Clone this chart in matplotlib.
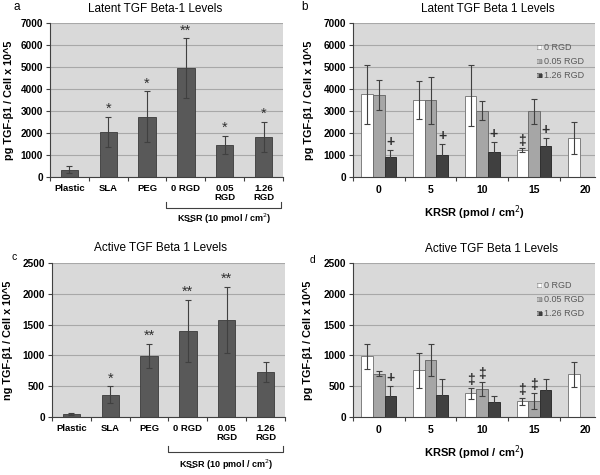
import matplotlib
matplotlib.use("Agg")
import matplotlib.pyplot as plt
import numpy as np

plt.rcParams['font.family'] = ['Liberation Sans', 'DejaVu Sans']

# ---------------- data ----------------
cats_ac = ["Plastic", "SLA", "PEG", "0 RGD", "0.05\nRGD", "1.26\nRGD"]
latent_a = [330, 2050, 2750, 4950, 1450, 1820]
latent_a_err = [150, 700, 1150, 1350, 420, 700]
latent_a_sig = ["", "*", "*", "**", "*", "*"]

active_c = [50, 360, 990, 1400, 1575, 735]
active_c_err = [12, 140, 200, 500, 540, 160]
active_c_sig = ["", "*", "**", "**", "**", ""]

krsr_groups = ["0", "5", "10", "15", "20"]
series_names = ["0 RGD", "0.05 RGD", "1.26 RGD"]

latent_b = {
    "0 RGD":    [3750, 3500, 3700, 1220, 1780],
    "0.05 RGD": [3720, 3480, 3020, 2980, None],
    "1.26 RGD": [900, 1020, 1130, 1400, None],
}
latent_b_err = {
    "0 RGD":    [1350, 850, 1400, 80, 730],
    "0.05 RGD": [680, 1050, 420, 550, None],
    "1.26 RGD": [330, 500, 450, 380, None],
}
latent_b_sig = {
    "0 RGD":    ["", "", "", "‡", ""],
    "0.05 RGD": ["", "", "", "", ""],
    "1.26 RGD": ["+", "+", "+", "+", ""],
}

active_d = {
    "0 RGD":    [985, 755, 385, 255, 690],
    "0.05 RGD": [700, 925, 455, 265, None],
    "1.26 RGD": [335, 350, 245, 440, None],
}
active_d_err = {
    "0 RGD":    [200, 290, 90, 60, 200],
    "0.05 RGD": [40, 260, 110, 130, None],
    "1.26 RGD": [165, 265, 90, 170, None],
}
active_d_sig = {
    "0 RGD":    ["", "", "‡", "‡", ""],
    "0.05 RGD": ["", "", "‡", "‡", ""],
    "1.26 RGD": ["+", "", "", "", ""],
}

# ---------------- style ----------------
BG = "#d9d9d9"
GRID = "#a8a8a8"
DARK = "#595959"
series_face = {"0 RGD": "#ffffff", "0.05 RGD": "#a6a6a6", "1.26 RGD": "#404040"}
series_edge = {"0 RGD": "#7f7f7f", "0.05 RGD": "#6e6e6e", "1.26 RGD": "#303030"}

fig = plt.figure(figsize=(6, 4.75), dpi=100)
W, H = 600, 475

def make_ax(l, t, r, b):
    return fig.add_axes([l / W, 1 - b / H, (r - l) / W, (b - t) / H])

ax_a = make_ax(50, 23, 283, 177)
ax_b = make_ax(353, 23, 595, 177)
ax_c = make_ax(52, 263, 285, 417)
ax_d = make_ax(353, 263, 595, 417)

def style(ax, ymax, step, ylabel, ylab_x):
    ax.set_facecolor(BG)
    ax.set_ylim(0, ymax)
    ax.set_yticks(np.arange(0, ymax + 1, step))
    ax.yaxis.grid(True, color=GRID, lw=0.8)
    ax.set_axisbelow(True)
    for s in ("top", "right"):
        ax.spines[s].set_visible(False)
    for s in ("left", "bottom"):
        ax.spines[s].set_color("#404040")
        ax.spines[s].set_linewidth(0.8)
    ax.tick_params(axis="y", direction="out", length=3, width=0.8, color="#404040",
                   labelsize=7.2, pad=2)
    for lab in ax.get_yticklabels():
        lab.set_fontweight("bold")
    ax.set_ylabel(ylabel, fontsize=7.8, fontweight="bold")
    ax.yaxis.set_label_coords(ylab_x, 0.5)

def single_panel(ax, vals, errs, sigs, ymax, step, ylabel, ylab_x, bracket_y, text_y):
    style(ax, ymax, step, ylabel, ylab_x)
    x = np.arange(len(cats_ac))
    ax.bar(x, vals, width=0.45, color=DARK, edgecolor="#3a3a3a", lw=0.6, zorder=2)
    ax.errorbar(x, vals, yerr=errs, fmt="none", ecolor="#404040", elinewidth=0.8,
                capsize=2, capthick=0.8, zorder=3)
    for xi, v, e, s in zip(x, vals, errs, sigs):
        if s:
            ax.text(xi, v + e + ymax * 0.005, s, ha="center", va="bottom",
                    fontsize=10.5, color="#303030")
    ax.set_xlim(-0.5, len(cats_ac) - 0.5)
    ax.set_xticks(x)
    ax.set_xticklabels(cats_ac, fontsize=6.8, fontweight="bold", linespacing=1.0)
    ax.tick_params(axis="x", which="major", length=0, pad=5)
    ax.set_xticks(np.arange(-0.5, len(cats_ac)), minor=True)
    ax.tick_params(axis="x", which="minor", direction="out", length=3, width=0.8,
                   color="#404040")
    # bracket
    tr = ax.get_xaxis_transform()
    x0, x1 = 2.5, 5.45
    up = 0.04
    ax.plot([x0, x0, x1, x1], [bracket_y + up, bracket_y, bracket_y, bracket_y + up],
            transform=tr, clip_on=False, color="#404040", lw=0.8)
    ax.text((x0 + x1) / 2, text_y, "KS\u0332SR (10 pmol / cm$^2$)", transform=tr,
            ha="center", va="center", fontsize=6.5, fontweight="bold")

def group_panel(ax, data, errs, sigs, ymax, step, ylabel, ylab_x, legend_top):
    style(ax, ymax, step, ylabel, ylab_x)
    n = len(krsr_groups)
    w = 0.225
    offs = [-w, 0, w]
    for off, name in zip(offs, series_names):
        vals = data[name]
        for gi in range(n):
            v = vals[gi]
            if v is None:
                continue
            e = errs[name][gi]
            ax.bar(gi + off, v, width=w, color=series_face[name],
                   edgecolor=series_edge[name], lw=0.7, zorder=2)
            ax.errorbar(gi + off, v, yerr=e, fmt="none", ecolor="#404040",
                        elinewidth=0.8, capsize=2, capthick=0.8, zorder=3)
            s = sigs[name][gi]
            if s:
                ax.text(gi + off, v + e + ymax * 0.005, s, ha="center", va="bottom",
                        fontsize=10, fontweight="bold", color="#303030")
    ax.set_xlim(-0.5, 4.18)
    ax.set_xticks(np.arange(n))
    ax.set_xticklabels(krsr_groups, fontsize=7.5, fontweight="bold")
    ax.tick_params(axis="x", which="major", length=0, pad=6)
    ax.set_xticks(np.arange(-0.5, 4.2, 1.0), minor=True)
    ax.tick_params(axis="x", which="minor", direction="out", length=3, width=0.8,
                   color="#404040")
    ax.set_xlabel("KRSR (pmol / cm$^2$)", fontsize=8, fontweight="bold", labelpad=6)
    # legend (manual, Excel-like)
    for i, name in enumerate(series_names):
        yy = legend_top + i * 14
        fig.text(537 / W, 1 - yy / H, "\u25a0", fontsize=6, color=series_face[name],
                 ha="left", va="center")
        fig.text(537 / W, 1 - yy / H, "\u25a1", fontsize=6, color=series_edge[name],
                 ha="left", va="center")
        fig.text(544 / W, 1 - yy / H, name, fontsize=6.5, color="#595959",
                 ha="left", va="center")

single_panel(ax_a, latent_a, latent_a_err, latent_a_sig, 7000, 1000,
             "pg TGF-β1 / Cell x 10^5", -0.155, -0.20, -0.27)
single_panel(ax_c, active_c, active_c_err, active_c_sig, 2500, 500,
             "ng TGF-β1 / Cell x 10^5", -0.167, -0.23, -0.31)
group_panel(ax_b, latent_b, latent_b_err, latent_b_sig, 7000, 1000,
            "pg TGF-β1 / Cell x 10^5", -0.161, 48)
group_panel(ax_d, active_d, active_d_err, active_d_sig, 2500, 500,
            "pg TGF-β1 / Cell x 10^5", -0.165, 286)

# titles
fig.text(155 / W, 1 - 9 / H, "Latent TGF Beta-1 Levels", fontsize=8.5, ha="center", va="center")
fig.text(488 / W, 1 - 9 / H, "Latent TGF Beta 1 Levels", fontsize=8.5, ha="center", va="center")
fig.text(160 / W, 1 - 248 / H, "Active TGF Beta 1 Levels", fontsize=8.5, ha="center", va="center")
fig.text(492 / W, 1 - 249 / H, "Active TGF Beta 1 Levels", fontsize=8.5, ha="center", va="center")

# panel letters
fig.text(17 / W, 1 - 7 / H, "a", fontsize=8.5, ha="center", va="center")
fig.text(305 / W, 1 - 7 / H, "b", fontsize=8.5, ha="center", va="center")
fig.text(14 / W, 1 - 257 / H, "c", fontsize=7.5, ha="center", va="center")
fig.text(312 / W, 1 - 260 / H, "d", fontsize=7.5, ha="center", va="center")

fig.savefig("out.png", dpi=100)
